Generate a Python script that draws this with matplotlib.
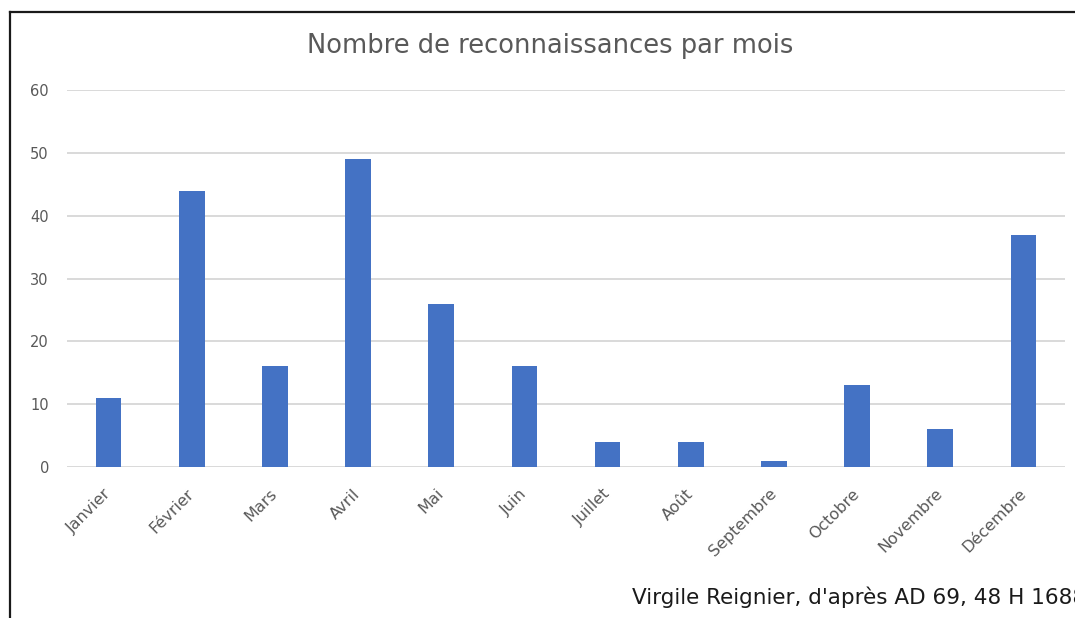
import matplotlib.pyplot as plt
from matplotlib.lines import Line2D

mois = ["Janvier", "Février", "Mars", "Avril", "Mai", "Juin", "Juillet",
        "Août", "Septembre", "Octobre", "Novembre", "Décembre"]
reconnaissances = [11, 44, 16, 49, 26, 16, 4, 4, 1, 13, 6, 37]
graduations = [0, 10, 20, 30, 40, 50, 60]

gris = "#595959"

fig = plt.figure(figsize=(10.75, 6.18), dpi=100)
ax = fig.add_axes([0.0623, 0.2443, 0.9284, 0.6101])

ax.bar(range(len(mois)), reconnaissances, width=0.31, color="#4472C4", zorder=3)

ax.set_xlim(-0.5, len(mois) - 0.5)
ax.set_ylim(0, 60)
ax.set_yticks(graduations)
ax.yaxis.grid(True, color="#D9D9D9", linewidth=1.4, zorder=0)
for s in ax.spines.values():
    s.set_visible(False)

ax.set_xticks(range(len(mois)))
ax.set_xticklabels(mois, rotation=45, ha="right", va="center", rotation_mode="anchor")
ax.tick_params(axis="x", length=0, pad=17.5, labelsize=11.5, labelcolor=gris)
ax.tick_params(axis="y", length=0, pad=13, labelsize=10.5, labelcolor=gris)

fig.text(0.5116, 0.926, "Nombre de reconnaissances par mois", ha="center", va="center",
         fontsize=18.5, color=gris)
# la source depasse du bord droit comme sur l'image d'origine
fig.text(0.588, 0.034, "Virgile Reignier, d'après AD 69, 48 H 1688", ha="left", va="center",
         fontsize=15.5, color="#1a1a1a")

# cadre noir en haut et a gauche
fig.add_artist(Line2D([0.0093, 1.0], [0.9798, 0.9798], color="#1a1a1a", linewidth=1.6,
                      transform=fig.transFigure))
fig.add_artist(Line2D([0.0093, 0.0093], [0.0, 0.9798], color="#1a1a1a", linewidth=1.6,
                      transform=fig.transFigure))

fig.savefig("out.png", dpi=100)
